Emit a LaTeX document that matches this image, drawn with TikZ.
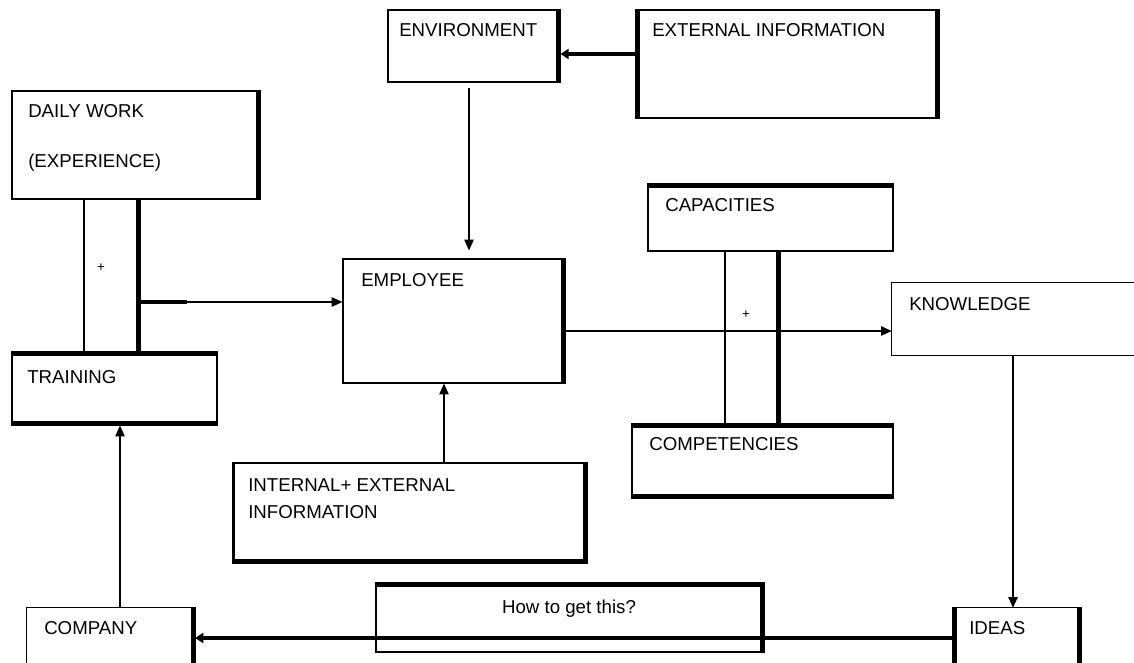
\documentclass[tikz,border=0pt]{standalone}
\usepackage{fontspec}
\setmainfont{Liberation Sans}
\usetikzlibrary{arrows.meta,fit,calc}
\begin{document}
\begin{tikzpicture}[x=0.75pt,y=-0.75pt,
  box/.style={draw,line width=0.9pt,inner sep=0pt},
  frame/.style={inner sep=0pt},
  lbl/.style={anchor=base west,inner sep=0pt,font=\fontsize{14}{16}\selectfont},
  thinln/.style={line width=0.9pt},
  thickln/.style={line width=3.75pt},
  heavyarr/.style={line width=3pt,-{Triangle[length=6pt,width=7.5pt]}},
  arr/.style={line width=0.9pt,-{Triangle[length=8pt,width=7pt]}},
  plus/.style={inner sep=0pt,font=\fontsize{10}{12}\selectfont}]
\useasboundingbox (0,0) rectangle (1134,663);
\fill[white] (0,0) rectangle (1134,663);

% helper coordinates
\coordinate (y54) at (0,54);
\coordinate (x469) at (469,0);
\coordinate (x84) at (84,0);
\coordinate (x138) at (138,0);
\coordinate (x120) at (120,0);
\coordinate (y302) at (0,302);
\coordinate (y331) at (0,331);
\coordinate (x444) at (444,0);
\coordinate (x725) at (725,0);
\coordinate (x778) at (778,0);
\coordinate (x1013) at (1013,0);
\coordinate (y638) at (0,638);

% boxes
\node[box,fit={(388,10)(560,82)}] (env) {};
\node[box,fit={(636,10)(939,118)}] (ext) {};
\node[box,fit={(12,91)(260,199)}] (daily) {};
\node[box,fit={(12,352)(217,425)}] (train) {};
\node[box,fit={(343,259)(565,383)}] (emp) {};
\node[box,fit={(648,184)(893,251)}] (cap) {};
\node[box,fit={(632,424)(893,498)}] (comp) {};
\node[frame,fit={(892,283)(1136,355)}] (know) {};
\draw[thinln] (know.north east) -- (know.north west) -- (know.south west) -- (know.south east);
\node[box,fit={(233,463)(587,563)}] (int) {};
\node[box,fit={(376,583)(764,652)}] (how) {};
\node[frame,fit={(27,608)(195,666)}] (company) {};
\draw[thinln] (company.south west) -- (company.north west) -- (company.north east) -- (company.south east);
\node[frame,fit={(953,608)(1081,666)}] (ideas) {};
\draw[thinln] (ideas.south west) -- (ideas.north west) -- (ideas.north east) -- (ideas.south east);

% thick sides
\draw[thickln] ($(env.north east)+(-2,0)$) -- ($(env.south east)+(-2,0)$);
\draw[thickln] ($(ext.north west)+(2,0)$) -- ($(ext.south west)+(2,0)$);
\draw[thickln] ($(ext.north east)+(-2,0)$) -- ($(ext.south east)+(-2,0)$);
\draw[thickln] ($(daily.north east)+(-2,0)$) -- ($(daily.south east)+(-2,0)$);
\draw[thickln] ($(train.north west)+(0,2)$) -- ($(train.north east)+(0,2)$);
\draw[thickln] ($(train.south west)+(0,-2)$) -- ($(train.south east)+(0,-2)$);
\draw[thickln] ($(emp.north east)+(-2,0)$) -- ($(emp.south east)+(-2,0)$);
\draw[thickln] ($(cap.north west)+(0,2)$) -- ($(cap.north east)+(0,2)$);
\draw[thickln] ($(comp.north west)+(0,2)$) -- ($(comp.north east)+(0,2)$);
\draw[thickln] ($(comp.south west)+(0,-2)$) -- ($(comp.south east)+(0,-2)$);
\draw[line width=2.2pt] ($(int.north west)+(1.5,0)$) -- ($(int.south west)+(1.5,0)$);
\draw[thickln] ($(int.north east)+(-2,0)$) -- ($(int.south east)+(-2,0)$);
\draw[thickln] ($(int.south west)+(0,-2)$) -- ($(int.south east)+(0,-2)$);
\draw[thickln] ($(how.north west)+(0,2)$) -- ($(how.north east)+(0,2)$);
\draw[thickln] ($(how.north east)+(-2,0)$) -- ($(how.south east)+(-2,0)$);
\draw[thickln] ($(company.north east)+(-2,0)$) -- ($(company.south east)+(-2,0)$);
\draw[thickln] ($(ideas.north west)+(2,0)$) -- ($(ideas.south west)+(2,0)$);
\draw[thickln] ($(ideas.north east)+(-2,0)$) -- ($(ideas.south east)+(-2,0)$);

% labels
\node[lbl] (envT) at (399,37) {ENVIRONMENT};
\node[lbl] (extT) at (652,37) {EXTERNAL INFORMATION};
\node[lbl] (dailyT) at (28,118) {DAILY WORK};
\node[lbl] (expT) at (28,167) {(EXPERIENCE)};
\node[lbl] (trainT) at (27,383) {TRAINING};
\node[lbl] (empT) at (361,286) {EMPLOYEE};
\node[lbl] (capT) at (665,211) {CAPACITIES};
\node[lbl] (knowT) at (909,310) {KNOWLEDGE};
\node[lbl] (compT) at (649,450) {COMPETENCIES};
\node[lbl] (intT) at (248,491) {INTERNAL+ EXTERNAL};
\node[lbl] (infT) at (248,518) {INFORMATION};
\node[lbl,anchor=base] (howT) at (569,613) {How to get this?};
\node[lbl] (companyT) at (44,634) {COMPANY};
\node[lbl] (ideasT) at (969,634) {IDEAS};
\node[plus] (p1) at (101,268) {+};
\node[plus] (p2) at (746,315) {+};

% connectors
\draw[heavyarr] (ext.west |- y54) -- (env.east |- y54);
\draw[arr,shorten <=4pt,shorten >=6pt] (env.south -| x469) -- (emp.north -| x469);
\draw[thinln] (daily.south -| x84) -- (train.north -| x84);
\draw[thickln] (daily.south -| x138) -- (train.north -| x138);
\coordinate (j) at (x138 |- y302);
\draw[line width=3pt] (j) -- ++(49,0);
\draw[line width=1.8pt] (j) -- ++(149,0);
\draw[arr] (j) -- (emp.west |- y302);
\draw[arr] (int.north -| x444) -- (emp.south -| x444);
\draw[arr] (emp.east |- y331) -- (know.west |- y331);
\draw[thinln] (cap.south -| x725) -- (comp.north -| x725);
\draw[thickln] (cap.south -| x778) -- (comp.north -| x778);
\draw[arr] (know.south -| x1013) -- (ideas.north -| x1013);
\draw[heavyarr] (ideas.west |- y638) -- (company.east |- y638);
\draw[arr] (company.north -| x120) -- (train.south -| x120);
\end{tikzpicture}
\end{document}
